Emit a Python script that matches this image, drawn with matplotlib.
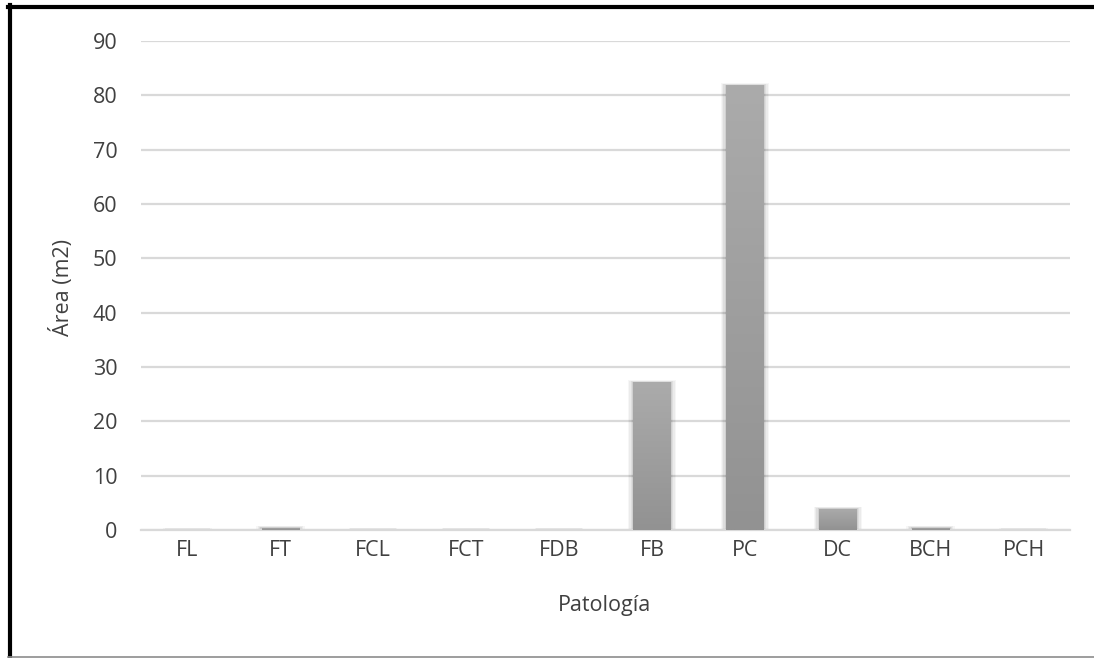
import numpy as np
import matplotlib
matplotlib.use("Agg")
import matplotlib.pyplot as plt
from matplotlib.patches import Rectangle
from matplotlib.lines import Line2D

categories = ["FL", "FT", "FCL", "FCT", "FDB", "FB", "PC", "DC", "BCH", "PCH"]
area_m2 = [0.05, 0.4, 0.05, 0.05, 0.05, 27.2, 81.9, 3.9, 0.4, 0.05]
y_ticks = [0, 10, 20, 30, 40, 50, 60, 70, 80, 90]

plt.rcParams["font.family"] = ["Open Sans", "DejaVu Sans"]
text_color = "#404040"
fs = 15.5

W, H = 1094, 658
fig = plt.figure(figsize=(W / 100, H / 100), dpi=100)
ax = fig.add_axes([141 / W, 1 - 530 / H, (1070 - 141) / W, (530 - 41) / H])

x = np.arange(len(categories))
bar_w = 0.4

# soft drop shadow behind each bar
for xi, v in zip(x, area_m2):
    for k, a in zip([0.06, 0.045, 0.03, 0.015], [0.035, 0.045, 0.055, 0.065]):
        ax.add_patch(Rectangle((xi - bar_w / 2 - k, 0), bar_w + 2 * k, v + k * 6,
                               facecolor="#000000", alpha=a, edgecolor="none", zorder=2))

# bars with a vertical grey gradient (lighter top, darker bottom)
grad = np.linspace(0, 1, 256).reshape(-1, 1)
cmap = matplotlib.colors.LinearSegmentedColormap.from_list("g", ["#929292", "#ababab"])
bars = ax.bar(x, area_m2, width=bar_w, color="#a0a0a0", zorder=3)
for b, v in zip(bars, area_m2):
    x0 = b.get_x()
    im = ax.imshow(grad, extent=(x0, x0 + bar_w, 0, max(v, 0.01)), origin="lower",
                   cmap=cmap, aspect="auto", zorder=3.5, interpolation="bilinear")
    im.set_clip_path(b)

ax.set_xlim(-0.5, len(categories) - 0.5)
ax.set_ylim(0, 90)
ax.set_yticks(y_ticks)
ax.set_xticks(x)
ax.set_xticklabels(categories)
ax.yaxis.grid(True, color="#d9d9d9", linewidth=1.6, zorder=0)
ax.set_axisbelow(True)
for s in ["top", "right", "left"]:
    ax.spines[s].set_visible(False)
ax.spines["bottom"].set_color("#d9d9d9")
ax.spines["bottom"].set_linewidth(1.6)
ax.tick_params(axis="both", length=0, labelsize=fs, colors=text_color)
ax.tick_params(axis="y", pad=17)
ax.tick_params(axis="x", pad=7)

ax.set_xlabel("Patología", fontsize=fs, color=text_color)
ax.set_ylabel("Área (m2)", fontsize=fs, color=text_color)
ax.xaxis.set_label_coords((605 - 141) / 929, (530 - 606) / 489)
ax.yaxis.set_label_coords((62 - 141) / 929, (530 - 288) / 489)
ax.xaxis.label.set_va("center")
ax.yaxis.label.set_va("center")

# frame lines around the figure
fig.add_artist(Line2D([9.5 / W, 9.5 / W], [0, 1 - 5 / H], color="black", linewidth=3, transform=fig.transFigure))
fig.add_artist(Line2D([8 / W, 1], [1 - 7 / H, 1 - 7 / H], color="black", linewidth=3, transform=fig.transFigure))
fig.add_artist(Line2D([8 / W, 1], [1.5 / H, 1.5 / H], color="#8c8c8c", linewidth=1.2, transform=fig.transFigure))

fig.savefig("out.png", dpi=100, facecolor="white")
